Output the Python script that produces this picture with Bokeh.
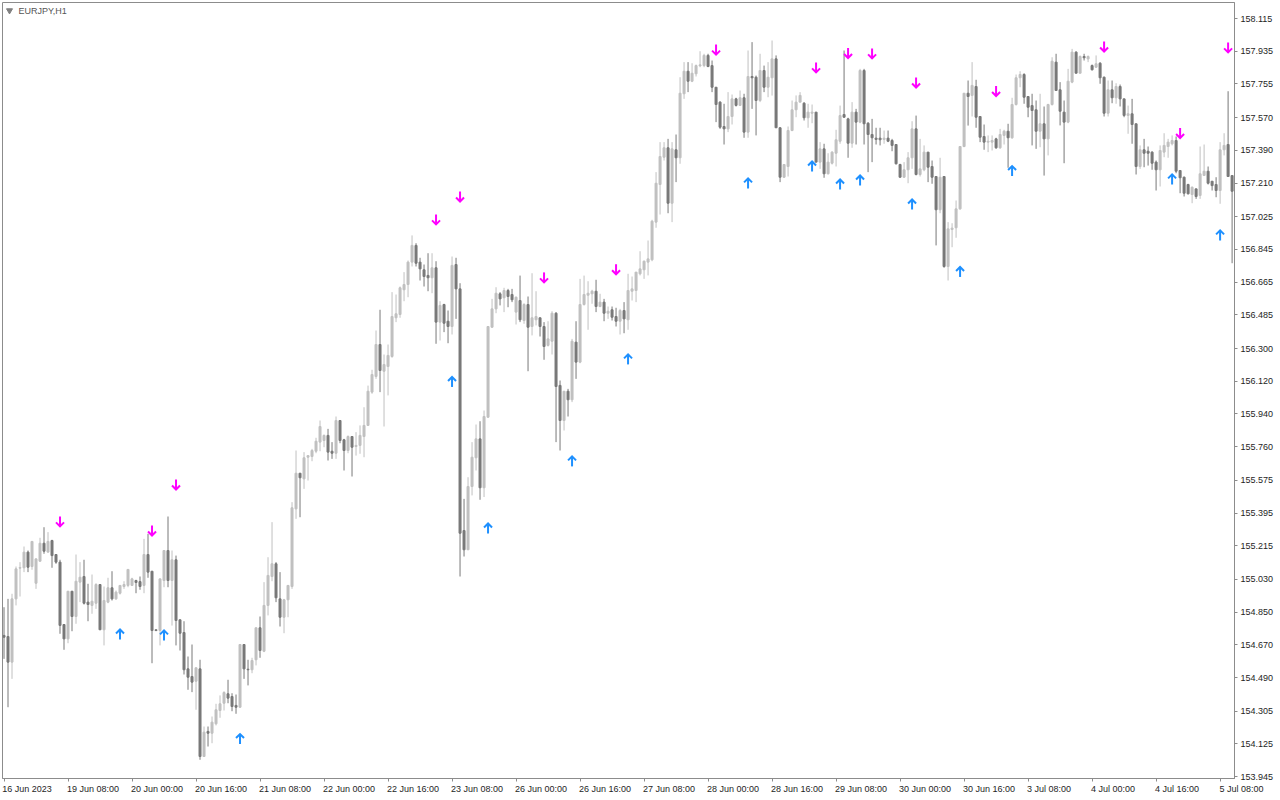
from bokeh.plotting import figure
from bokeh.models import ColumnDataSource, FixedTicker, Range1d, NumeralTickFormatter, LinearAxis
from bokeh.core.properties import value
from bokeh.embed import file_html
from bokeh.resources import INLINE

symbol = "EURJPY,H1"

opens = [
 154.722,154.716,154.575,154.923,155.092,155.094,155.180,155.101,155.009,155.130,
 155.229,155.180,155.244,155.167,155.125,154.782,154.703,154.965,154.826,155.015,
 155.046,154.905,154.887,154.899,155.002,154.753,154.905,154.984,154.923,154.954,
 154.991,154.997,154.997,155.024,155.018,154.997,155.167,155.075,154.753,154.749,
 155.024,155.189,155.024,155.138,154.808,154.738,154.538,154.496,154.470,154.538,
 154.056,154.194,154.184,154.236,154.309,154.349,154.401,154.386,154.337,154.327,
 154.672,154.536,154.533,154.588,154.764,154.635,154.887,155.046,155.116,154.923,
 154.822,154.918,154.991,155.418,155.614,155.583,155.702,155.706,155.735,155.785,
 155.794,155.822,155.735,155.724,155.904,155.798,155.739,155.816,155.761,155.767,
 155.816,155.877,156.060,156.146,156.322,156.175,156.201,156.256,156.469,156.487,
 156.623,156.652,156.775,156.867,156.775,156.733,156.702,156.689,156.744,156.445,
 156.542,156.450,156.421,156.762,156.628,155.299,155.193,155.541,155.699,155.803,
 155.534,155.922,156.417,156.518,156.601,156.579,156.619,156.597,156.500,156.564,
 156.454,156.542,156.421,156.458,156.469,156.421,156.317,156.340,156.494,156.097,
 155.904,156.065,156.018,156.335,156.225,156.542,156.593,156.601,156.615,156.531,
 156.555,156.494,156.513,156.476,156.450,156.509,156.458,156.615,156.619,156.711,
 156.733,156.775,156.788,156.995,157.202,157.352,157.404,157.099,157.393,157.349,
 157.701,157.825,157.770,157.811,157.855,157.856,157.912,157.856,157.737,157.655,
 157.521,157.508,157.576,157.673,157.637,157.679,157.490,157.796,157.792,157.664,
 157.829,157.737,157.789,157.893,157.514,157.242,157.301,157.499,157.613,157.655,
 157.649,157.569,157.594,157.600,157.325,157.398,157.261,157.319,157.374,157.440,
 157.587,157.563,157.429,157.600,157.545,157.829,157.539,157.477,157.457,157.457,
 157.450,157.457,157.444,157.422,157.312,157.242,157.283,157.349,157.508,157.257,
 157.283,157.380,157.301,157.246,157.063,157.246,156.751,156.955,156.964,157.068,
 157.411,157.704,157.692,157.741,157.576,157.466,157.435,157.435,157.453,157.404,
 157.472,157.495,157.459,157.642,157.789,157.807,157.686,157.636,157.613,157.495,
 157.536,157.453,157.642,157.875,157.723,157.600,157.545,157.765,157.930,157.814,
 157.906,157.893,157.856,157.847,157.869,157.792,157.594,157.723,157.679,157.741,
 157.673,157.582,157.591,157.536,157.301,157.393,157.385,157.380,157.325,157.283,
 157.380,157.411,157.426,157.444,157.279,157.242,157.202,157.147,157.178,157.142,
 157.252,157.275,157.220,157.202,157.169,157.393,157.422,157.251]

highs = [
 154.877,154.923,154.951,155.101,155.125,155.211,155.189,155.239,155.143,155.259,
 155.317,155.290,155.248,155.167,155.138,154.782,154.965,154.965,155.167,155.125,
 155.138,155.006,155.057,155.009,155.002,154.991,155.039,155.075,154.969,154.997,
 155.020,155.085,155.039,155.028,155.046,155.253,155.281,155.075,154.753,155.033,
 155.189,155.376,155.189,155.161,154.808,154.800,154.606,154.672,154.544,154.588,
 154.221,154.221,154.276,154.346,154.392,154.415,154.478,154.404,154.397,154.672,
 154.672,154.588,154.599,154.764,154.826,155.015,155.152,155.345,155.125,155.070,
 154.923,154.997,155.455,155.739,155.614,155.730,155.711,155.748,155.809,155.904,
 155.827,155.858,155.785,155.926,155.904,155.803,155.822,155.816,155.840,155.877,
 155.977,156.096,156.183,156.399,156.513,156.267,156.322,156.610,156.597,156.641,
 156.720,156.784,156.922,156.879,156.799,156.762,156.824,156.824,156.780,156.560,
 156.546,156.509,156.806,156.799,156.659,155.473,155.592,155.785,155.882,155.900,
 155.959,156.421,156.573,156.637,156.610,156.634,156.628,156.628,156.586,156.701,
 156.549,156.586,156.714,156.615,156.469,156.445,156.450,156.505,156.500,156.124,
 156.065,156.078,156.353,156.450,156.683,156.701,156.670,156.623,156.678,156.601,
 156.573,156.531,156.531,156.524,156.518,156.555,156.711,156.696,156.720,156.835,
 156.784,156.894,157.008,157.270,157.435,157.435,157.453,157.435,157.477,157.792,
 157.875,157.875,157.869,157.862,157.935,157.921,157.921,157.884,157.737,157.660,
 157.646,157.710,157.697,157.679,157.719,157.701,157.939,157.985,157.801,157.921,
 157.856,157.875,157.994,157.912,157.517,157.312,157.521,157.664,157.692,157.710,
 157.655,157.646,157.642,157.600,157.435,157.426,157.374,157.385,157.503,157.636,
 157.939,157.569,157.655,157.618,157.838,157.838,157.545,157.563,157.514,157.514,
 157.499,157.499,157.453,157.422,157.316,157.325,157.380,157.550,157.581,157.453,
 157.417,157.380,157.334,157.246,157.349,157.246,156.995,156.989,157.114,157.411,
 157.704,157.774,157.875,157.778,157.576,157.532,157.472,157.472,157.459,157.508,
 157.503,157.536,157.679,157.807,157.825,157.814,157.686,157.701,157.664,157.701,
 157.631,157.646,157.902,157.921,157.765,157.664,157.838,157.948,157.935,157.912,
 157.921,157.912,157.862,157.912,157.875,157.796,157.774,157.774,157.759,157.752,
 157.673,157.636,157.673,157.536,157.417,157.453,157.411,157.385,157.334,157.417,
 157.484,157.453,157.472,157.466,157.279,157.246,157.206,157.191,157.178,157.411,
 157.422,157.301,157.220,157.242,157.435,157.484,157.715,157.251]

lows = [
 154.593,154.327,154.483,154.887,154.936,155.070,155.070,155.083,154.978,155.130,
 155.171,155.180,155.094,155.116,154.731,154.643,154.679,154.745,154.786,154.905,
 154.892,154.800,154.841,154.868,154.753,154.667,154.899,154.914,154.918,154.947,
 154.978,154.987,154.997,154.954,154.973,154.954,155.039,154.569,154.745,154.667,
 154.987,154.987,154.776,154.667,154.639,154.507,154.423,154.410,154.313,154.038,
 154.056,154.111,154.129,154.227,154.269,154.309,154.349,154.305,154.291,154.324,
 154.483,154.447,154.514,154.557,154.599,154.630,154.832,155.020,154.905,154.771,
 154.734,154.822,154.978,155.363,155.372,155.528,155.574,155.680,155.724,155.735,
 155.757,155.684,155.693,155.693,155.779,155.629,155.724,155.596,155.711,155.721,
 155.702,155.877,156.051,156.133,156.060,155.871,156.042,156.249,156.445,156.469,
 156.560,156.582,156.751,156.751,156.674,156.641,156.615,156.604,156.326,156.344,
 156.390,156.329,156.377,156.463,155.046,155.156,155.193,155.492,155.629,155.468,
 155.483,155.919,156.414,156.494,156.537,156.500,156.527,156.555,156.432,156.445,
 156.436,156.175,156.372,156.427,156.366,156.238,156.311,156.267,155.785,155.739,
 155.849,155.926,156.005,156.133,156.219,156.536,156.403,156.546,156.500,156.527,
 156.450,156.463,156.454,156.421,156.377,156.384,156.403,156.564,156.555,156.702,
 156.683,156.702,156.780,156.964,157.037,157.334,157.044,156.995,157.215,157.316,
 157.673,157.710,157.765,157.796,157.847,157.847,157.847,157.710,157.545,157.508,
 157.422,157.490,157.532,157.631,157.637,157.459,157.459,157.618,157.472,157.655,
 157.710,157.682,157.691,157.514,157.215,157.239,157.246,157.495,157.572,157.655,
 157.554,157.514,157.539,157.325,157.288,157.239,157.257,157.312,157.301,157.426,
 157.569,157.349,157.404,157.422,157.539,157.422,157.270,157.325,157.422,157.417,
 157.426,157.435,157.385,157.312,157.239,157.239,157.209,157.288,157.252,157.246,
 157.275,157.215,157.206,156.867,157.044,156.744,156.674,156.857,156.909,157.063,
 157.407,157.526,157.576,157.514,157.435,157.393,157.380,157.389,157.398,157.398,
 157.422,157.294,157.453,157.636,157.737,157.646,157.572,157.417,157.398,157.407,
 157.251,157.362,157.636,157.719,157.527,157.319,157.539,157.759,157.814,157.814,
 157.884,157.875,157.829,157.844,157.756,157.576,157.576,157.649,157.646,157.631,
 157.572,157.481,157.426,157.257,157.288,157.297,157.306,157.283,157.169,157.191,
 157.352,157.349,157.417,157.264,157.154,157.136,157.147,157.099,157.123,157.123,
 157.252,157.202,157.169,157.132,157.096,157.362,157.246,156.769]

closes = [
 154.712,154.575,154.923,155.088,155.095,155.180,155.097,155.239,155.143,155.229,
 155.185,155.239,155.161,155.125,154.777,154.703,154.965,154.826,155.020,155.042,
 154.899,154.892,154.910,155.002,154.753,154.914,154.984,154.923,154.960,154.997,
 155.002,155.085,155.033,155.013,154.991,155.167,155.070,154.749,154.749,155.033,
 155.189,155.024,155.138,154.804,154.734,154.533,154.492,154.465,154.544,154.056,
 154.190,154.184,154.245,154.313,154.346,154.408,154.377,154.331,154.327,154.672,
 154.538,154.533,154.584,154.764,154.639,154.887,155.052,155.116,154.929,154.822,
 154.918,154.997,155.424,155.614,155.589,155.699,155.711,155.739,155.790,155.871,
 155.822,155.730,155.724,155.904,155.794,155.739,155.816,155.757,155.767,155.822,
 155.877,156.065,156.157,156.322,156.179,156.212,156.262,156.476,156.491,156.634,
 156.652,156.775,156.867,156.769,156.738,156.696,156.689,156.744,156.445,156.537,
 156.439,156.421,156.757,156.628,155.284,155.193,155.541,155.702,155.803,155.534,
 155.926,156.421,156.518,156.604,156.573,156.619,156.586,156.568,156.582,156.458,
 156.542,156.417,156.469,156.476,156.421,156.311,156.353,156.494,156.091,155.904,
 156.065,156.018,156.340,156.225,156.542,156.597,156.604,156.615,156.531,156.555,
 156.494,156.505,156.472,156.450,156.509,156.463,156.619,156.628,156.720,156.738,
 156.780,156.793,157.000,157.209,157.356,157.404,157.099,157.398,157.349,157.704,
 157.825,157.770,157.814,157.856,157.860,157.912,157.851,157.737,157.642,157.517,
 157.508,157.576,157.673,157.637,157.679,157.490,157.796,157.789,157.664,157.829,
 157.737,157.792,157.893,157.514,157.242,157.312,157.499,157.613,157.655,157.692,
 157.569,157.600,157.600,157.325,157.398,157.261,157.325,157.380,157.448,157.581,
 157.572,157.429,157.600,157.545,157.829,157.536,157.477,157.459,157.450,157.448,
 157.457,157.440,157.417,157.316,157.242,157.283,157.349,157.508,157.257,157.288,
 157.380,157.297,157.242,157.063,157.242,156.751,156.958,156.962,157.068,157.411,
 157.704,157.686,157.747,157.572,157.462,157.435,157.440,157.444,157.404,157.477,
 157.495,157.459,157.642,157.789,157.807,157.682,157.627,157.609,157.495,157.536,
 157.453,157.642,157.880,157.719,157.605,157.545,157.770,157.930,157.814,157.906,
 157.899,157.906,157.833,157.866,157.789,157.594,157.723,157.679,157.741,157.673,
 157.582,157.591,157.532,157.301,157.393,157.374,157.374,157.319,157.283,157.389,
 157.417,157.435,157.444,157.275,157.239,157.154,157.151,157.187,157.136,157.261,
 157.275,157.209,157.196,157.169,157.393,157.417,157.246,157.165]

# signal arrows: candle index and price level
sell_idx = [14, 37, 43, 108, 114, 135, 153, 178, 203, 211, 217, 228, 248, 275, 294, 306]
sell_price = [155.349, 155.299, 155.552, 157.010, 157.136, 156.691, 156.736, 157.944,
              157.846, 157.925, 157.923, 157.763, 157.716, 157.961, 157.485, 157.956]
buy_idx = [29, 40, 59, 112, 121, 142, 156, 186, 202, 209, 214, 227, 239, 252, 292, 304]
buy_price = [154.727, 154.722, 154.152, 156.116, 155.310, 155.679, 156.240, 157.208,
             157.301, 157.202, 157.224, 157.092, 156.721, 157.276, 157.230, 156.922]

# axis ticks
time_tick_idx = [0, 16, 32, 48, 64, 80, 96, 112, 128, 144, 160, 176, 192, 208, 224, 240, 256, 272, 288, 304]
time_tick_labels = ["16 Jun 2023", "19 Jun 08:00", "20 Jun 00:00", "20 Jun 16:00", "21 Jun 08:00",
                    "22 Jun 00:00", "22 Jun 16:00", "23 Jun 08:00", "26 Jun 00:00", "26 Jun 16:00",
                    "27 Jun 08:00", "28 Jun 00:00", "28 Jun 16:00", "29 Jun 08:00", "30 Jun 00:00",
                    "30 Jun 16:00", "3 Jul 08:00", "4 Jul 00:00", "4 Jul 16:00", "5 Jul 08:00"]
price_ticks = [158.115, 157.935, 157.755, 157.570, 157.390, 157.210, 157.025, 156.845, 156.665,
               156.485, 156.300, 156.120, 155.940, 155.760, 155.575, 155.395, 155.215, 155.030,
               154.850, 154.670, 154.490, 154.305, 154.125, 153.945]

BULL = "#c0c0c0"
BEAR = "#787878"
FRAME = "#8c8c8c"
TXT = "#1e1e1e"
SELL = "#ff00ff"
BUY = "#1e90ff"

W, H = 1280, 800
X0, X1 = -0.375, 307.6
Y0, Y1 = 153.935, 158.203
FRAME_W, FRAME_H = 1232.0, 776.0          # plot-area size in px
UX = (X1 - X0) / FRAME_W                  # data units per px (x)
UY = (Y1 - Y0) / FRAME_H                  # data units per px (y)

n = len(opens)
idx = list(range(n))
colors = [BULL if c >= o else BEAR for o, c in zip(opens, closes)]
src = ColumnDataSource(dict(
    x=idx, h=highs, l=lows,
    top=[max(o, c) for o, c in zip(opens, closes)],
    bottom=[min(o, c) for o, c in zip(opens, closes)],
    color=colors))

p = figure(width=W, height=H,
           x_range=Range1d(X0, X1), y_range=Range1d(Y0, Y1),
           y_axis_location="right", output_backend="svg", toolbar_location=None,
           min_border_left=2, min_border_top=2, min_border_right=46, min_border_bottom=22,
           background_fill_color="white", border_fill_color="white",
           outline_line_color=FRAME)
p.grid.visible = False

p.segment(x0="x", y0="l", x1="x", y1="h", line_color="color", line_width=1, source=src)
p.vbar(x="x", width=0.5, top="top", bottom="bottom", fill_color="color",
       line_color="color", line_width=1, source=src)

# arrows (stem + open head), sized in pixels
half = 5 * UY
hx, hy = 4 * UX, 4 * UY


def arrows(xs, ys, direction, color):
    tips = [y - direction * half for y in ys]
    tails = [y + direction * half for y in ys]
    p.segment(x0=xs, y0=tails, x1=xs, y1=tips, line_color=color, line_width=2)
    p.multi_line(xs=[[x - hx, x, x + hx] for x in xs],
                 ys=[[t + direction * hy, t, t + direction * hy] for t in tips],
                 line_color=color, line_width=2, line_join="miter")


arrows(sell_idx, sell_price, 1, SELL)
arrows(buy_idx, buy_price, -1, BUY)

# header
p.scatter(x=[X0 + 7 * UX], y=[Y1 - 8 * UY], marker="inverted_triangle", size=6,
          fill_color="#808080", line_color="#808080")
p.text(x=[X0 + 16 * UX], y=[Y1 - 8 * UY], text=[symbol], text_color="#555555",
       text_font=value("Liberation Sans"), text_font_size="9px",
       text_align="left", text_baseline="middle")

# bottom axis: tick marks only
xa = p.xaxis[0]
xa.ticker = FixedTicker(ticks=time_tick_idx, minor_ticks=[])
xa.major_label_overrides = {i: "" for i in time_tick_idx}
xa.axis_line_color = FRAME
xa.major_tick_line_color = FRAME
xa.major_tick_out = 3
xa.major_tick_in = 0
xa.minor_tick_line_color = None
xa.major_label_standoff = 0

# bottom labels starting at each tick (left aligned look)
CW = {"J": 0.5, "u": 0.556, "n": 0.556, "l": 0.222, " ": 0.278, ":": 0.278}
NBSP = "\u00a0"
lab_ticks, lab_text = [], []
x_last = X1 - 0.1
for t, s in zip(time_tick_idx, time_tick_labels):
    wpx = 9 * sum(CW.get(ch, 0.556) for ch in s)
    c = t + round(wpx / 2 - 1.5) * UX
    if c < x_last:
        lab_ticks.append(c)
        lab_text.append(s)
    else:
        # tick limited to the plot edge: pad on the left so the text still starts at the tick
        shift_px = (c - x_last) / UX
        k = int(round(2 * shift_px / (9 * 0.278)))
        lab_ticks.append(x_last)
        lab_text.append(NBSP * k + s)

xl = LinearAxis(ticker=FixedTicker(ticks=lab_ticks, minor_ticks=[]),
                major_label_overrides={v: s for v, s in zip(lab_ticks, lab_text)},
                axis_line_color=None, major_tick_line_color=None, minor_tick_line_color=None,
                major_tick_out=0, major_tick_in=0, major_label_standoff=2,
                major_label_text_font="Liberation Sans", major_label_text_font_size="9px",
                major_label_text_color=TXT)
p.add_layout(xl, "below")

ya = p.yaxis[0]
ya.ticker = FixedTicker(ticks=price_ticks, minor_ticks=[])
ya.formatter = NumeralTickFormatter(format="0.000")
ya.major_label_text_font = "Liberation Sans"
ya.major_label_text_font_size = "9px"
ya.major_label_text_color = TXT
ya.axis_line_color = FRAME
ya.major_tick_line_color = FRAME
ya.major_tick_out = 3
ya.major_tick_in = 0
ya.minor_tick_line_color = None
ya.major_label_standoff = 3

open("out.html", "w").write(file_html(p, INLINE))
